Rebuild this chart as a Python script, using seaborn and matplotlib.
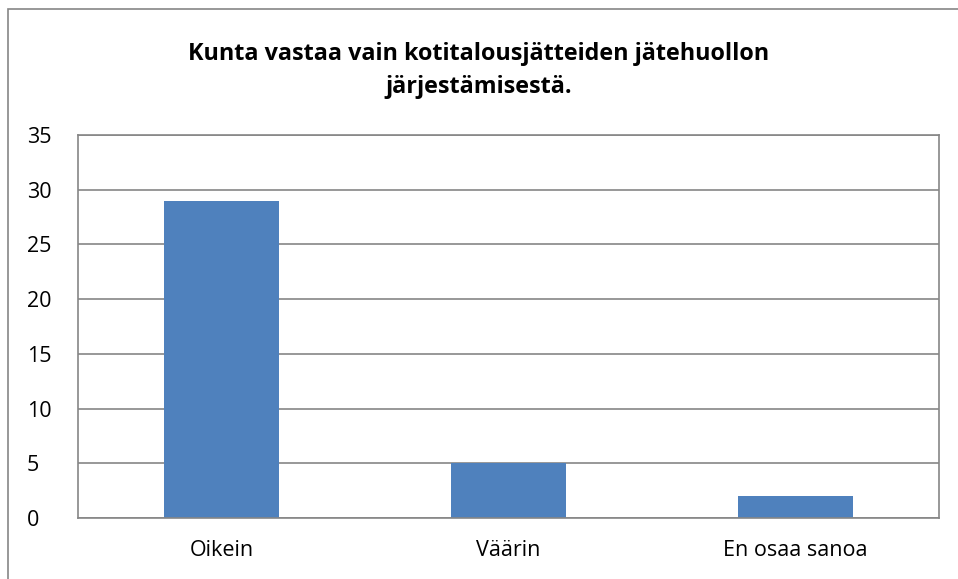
import matplotlib
matplotlib.use("Agg")
import matplotlib.pyplot as plt
import seaborn as sns
import pandas as pd
from matplotlib.patches import Rectangle

categories = ["Oikein", "Väärin", "En osaa sanoa"]
values = [29, 5, 2]
yticks = [0, 5, 10, 15, 20, 25, 30, 35]
title = "Kunta vastaa vain kotitalousjätteiden jätehuollon\njärjestämisestä."

sns.set_theme(style="white")
plt.rcParams['font.family'] = ['Open Sans', 'DejaVu Sans']
plt.rcParams['text.color'] = 'black'

W, H = 958, 579
fig = plt.figure(figsize=(W / 100, H / 100), dpi=100)
ax = fig.add_axes([78 / W, 1 - 518 / H, (939 - 78) / W, (518 - 135) / H])

df = pd.DataFrame({"cat": categories, "val": values})
sns.barplot(data=df, x="cat", y="val", color="#4F81BD", saturation=1,
            width=0.4, ax=ax, edgecolor="none")

ax.set_ylim(0, 35)
ax.set_yticks(yticks)
ax.set_xlim(-0.5, 2.5)
ax.yaxis.grid(True, color="#868686", linewidth=1.2)
ax.set_axisbelow(True)
for s in ["top", "right", "left", "bottom"]:
    ax.spines[s].set_visible(True)
    ax.spines[s].set_color("#868686")
    ax.spines[s].set_linewidth(1.2)
ax.set_xlabel("")
ax.set_ylabel("")
ax.tick_params(axis="both", length=0, labelsize=15.5, colors="black")
ax.tick_params(axis="y", pad=37)
ax.tick_params(axis="x", pad=16)
for lab in ax.get_yticklabels():
    lab.set_horizontalalignment("left")

fig.text(479 / W, 1 - 70 / H, title, ha="center", va="center",
         fontsize=16.8, fontweight="bold", linespacing=1.5, color="black")

fig.patches.append(Rectangle((8 / W, -0.1), 1.2, 1 - 9 / H + 0.1,
                             transform=fig.transFigure, fill=False,
                             edgecolor="#868686", linewidth=1.2))

fig.savefig("out.png", dpi=100)
